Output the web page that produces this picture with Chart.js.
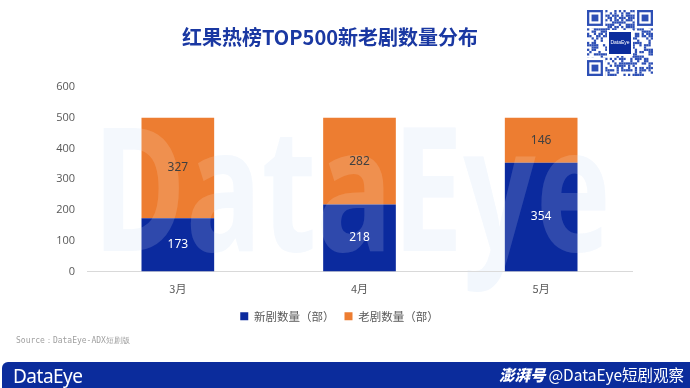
<!DOCTYPE html>
<html><head><meta charset="utf-8">
<script src="https://cdn.jsdelivr.net/npm/chart.js@4"></script>
<style>
html,body{margin:0;padding:0;background:#fff;}
#wrap{position:relative;width:690px;height:388px;overflow:hidden;font-family:"Noto Sans CJK SC","Noto Sans",sans-serif;}
#c{position:absolute;left:0;top:0;}
#title{position:absolute;left:0;width:660px;top:22px;text-align:center;font-size:20px;font-weight:bold;color:#1a38a2;}
#qr{position:absolute;left:587px;top:10px;}
#src{position:absolute;left:16px;top:335px;font-size:8px;color:#a0a0a0;font-family:"DejaVu Sans Mono",monospace;}
#foot{position:absolute;left:2px;top:362px;width:690px;height:28px;background:#0b2c9c;border-radius:6px 0 0 0;}
#logo{position:absolute;left:13px;top:363px;font-size:19px;color:#fff;font-family:"Noto Sans",sans-serif;letter-spacing:-0.5px;}
#brand{position:absolute;right:6px;top:363px;font-size:15.5px;color:#fff;white-space:nowrap;}
#brand b{font-style:italic;font-weight:900;margin-right:3px;}
</style></head>
<body><div id="wrap">
<canvas id="c" width="690" height="388"></canvas>
<div id="title">红果热榜TOP500新老剧数量分布</div>
<canvas id="qr" width="66" height="66"></canvas>
<div id="src">Source：DataEye-ADX短剧版</div>
<div id="foot"></div>
<div id="logo">DataEye</div>
<div id="brand"><b>澎湃号</b>@DataEye短剧观察</div>
</div>
<script>
const categories = ['3月', '4月', '5月'];
const newDramas = [173, 218, 354];
const oldDramas = [327, 282, 146];
const seriesNames = ['新剧数量（部）', '老剧数量（部）'];
const yTicks = [0, 100, 200, 300, 400, 500, 600];

// QR-like decoration
(function(){
  const q = document.getElementById('qr').getContext('2d');
  const n = 29, s = 66 / n;
  q.fillStyle = '#fff'; q.fillRect(0,0,66,66);
  q.fillStyle = '#2d4fb5';
  let h = 12345;
  for (let i=0;i<n;i++) for (let j=0;j<n;j++){
    h = (h * 1103515245 + 12345) & 0x7fffffff;
    if ((h >> 16) % 2) q.fillRect(i*s, j*s, s, s);
  }
  function finder(x,y){
    q.fillStyle='#fff'; q.fillRect(x*s-s,y*s-s,9*s,9*s);
    q.fillStyle='#2d4fb5'; q.fillRect(x*s,y*s,7*s,7*s);
    q.fillStyle='#fff'; q.fillRect(x*s+s,y*s+s,5*s,5*s);
    q.fillStyle='#2d4fb5'; q.fillRect(x*s+2*s,y*s+2*s,3*s,3*s);
  }
  finder(0,0); finder(n-7,0); finder(0,n-7);
  q.fillStyle='#fff'; q.fillRect(20,20,26,26);
  q.fillStyle='#0b2c9c'; q.fillRect(22,22,22,22);
  q.fillStyle='#fff'; q.font='5px sans-serif'; q.textAlign='center'; q.textBaseline='middle';
  q.fillText('DataEye',33,33);
})();

function drawMark(c, color){
  c.save();
  c.font = 'bold 172px "Noto Sans", sans-serif';
  c.fillStyle = color; c.textBaseline = 'alphabetic'; c.textAlign = 'left';
  c.fillText('DataEye', 93, 251, 518);
  c.restore();
}
const watermark = {
  id: 'wm',
  beforeDraw(chart){ drawMark(chart.ctx, '#f2f7fd'); },
  afterDatasetsDraw(chart){
    const c = chart.ctx;
    const a = chart.chartArea;
    c.save();
    c.beginPath(); c.rect(a.left, a.top - 40, a.right - a.left, a.bottom - a.top + 40); c.clip();
    drawMark(c, 'rgba(255,255,255,0.15)');
    c.restore();
    c.save();
    c.font = '12px "Noto Sans", sans-serif';
    c.textAlign = 'center'; c.textBaseline = 'middle';
    chart.data.datasets.forEach((ds, di) => {
      const meta = chart.getDatasetMeta(di);
      meta.data.forEach((bar, i) => {
        const p = bar.getProps(['x','y','base'], true);
        c.fillStyle = di === 0 ? '#ffffff' : '#404040';
        c.fillText(String(ds.data[i]), p.x, (p.y + p.base) / 2);
      });
    });
    c.restore();
  }
};

new Chart(document.getElementById('c'), {
  type: 'bar',
  data: {
    labels: categories,
    datasets: [
      { label: seriesNames[0], data: newDramas, backgroundColor: '#0b2a9e', categoryPercentage: 0.4, barPercentage: 1 },
      { label: seriesNames[1], data: oldDramas, backgroundColor: '#ed7d31', categoryPercentage: 0.4, barPercentage: 1 }
    ]
  },
  options: {
    responsive: false, animation: false,
    layout: { padding: { left: 47, right: 58, top: 87, bottom: 56 } },
    plugins: {
      title: { display: false }, tooltip: { enabled: false },
      legend: {
        position: 'bottom',
        labels: { boxWidth: 8, boxHeight: 8, padding: 10, color: '#595959',
          font: { size: 11.5, family: '"Noto Sans CJK SC", sans-serif' } }
      }
    },
    scales: {
      x: { stacked: true,
        grid: { display: false, drawTicks: false },
        border: { display: true, color: '#d9d9d9' },
        ticks: { padding: 11, color: '#595959', font: { size: 11, family: '"Noto Sans CJK SC", sans-serif' } },
        afterFit(s){ s.height = 29; }
      },
      y: { stacked: true, min: 0, max: 600,
        afterBuildTicks(s){ s.ticks = yTicks.map(v => ({ value: v })); },
        grid: { display: false, drawTicks: false },
        border: { display: false },
        ticks: { padding: 12, color: '#595959', font: { size: 11, family: '"Open Sans", sans-serif' } },
        afterFit(s){ s.width = 40; }
      }
    }
  },
  plugins: [watermark]
});
</script>
</body></html>
